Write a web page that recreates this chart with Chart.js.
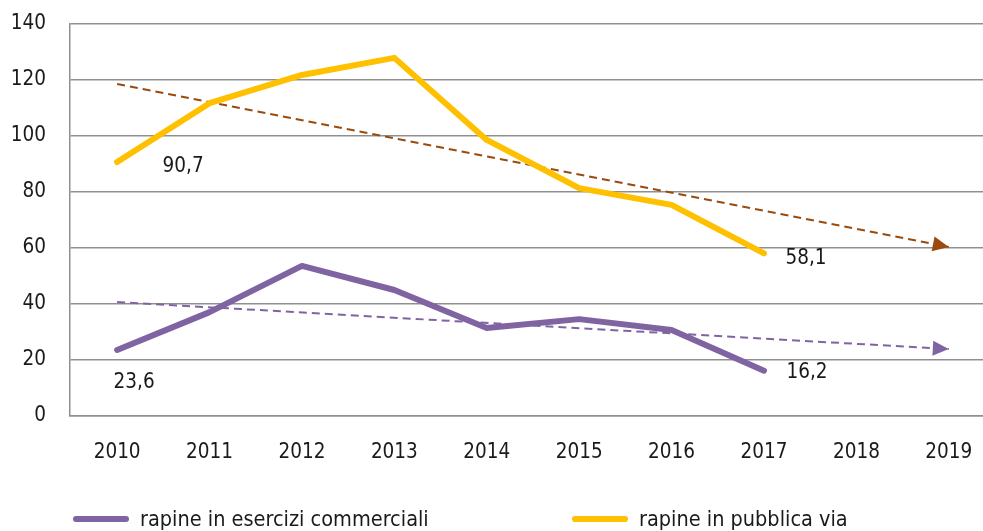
<!DOCTYPE html>
<html>
<head>
<meta charset="utf-8">
<script src="https://cdn.jsdelivr.net/npm/chart.js@4.4.1/dist/chart.umd.min.js"></script>
<style>
	html,body{margin:0;padding:0;background:#fff;overflow:hidden;}
	#wrap{width:983px;height:531px;position:relative;}
</style>
</head>
<body>
<div id="wrap"><canvas id="canvas"></canvas></div>
<script>
// data
var years = [2010, 2011, 2012, 2013, 2014, 2015, 2016, 2017];
var tickYears = [2010, 2011, 2012, 2013, 2014, 2015, 2016, 2017, 2018, 2019];
var esercizi = [23.6, 37.1, 53.6, 45.0, 31.4, 34.6, 30.7, 16.2];
var pubblicaVia = [90.7, 111.7, 121.8, 127.9, 98.6, 81.4, 75.4, 58.1];
var trendYears = [2010, 2019];
var trendEsercizi = [40.7, 23.9];
var trendPubblica = [118.6, 60.4];
var yTicks = [0, 20, 40, 60, 80, 100, 120, 140];

var FONT = "'Liberation Sans Narrow', 'DejaVu Sans Condensed', 'Roboto', sans-serif";
var PURPLE = '#8064a2';
var YELLOW = '#ffc000';
var BROWN = '#9a4a0c';

function pts(xs, ys){
	return ys.map(function(v, i){ return {x: xs[i], y: v}; });
}

// value labels (first and last point of each main series)
var valueLabels = {
	id: 'valueLabels',
	afterDatasetsDraw: function(chart, args, opts){
		var ctx = chart.ctx;
		ctx.save();
		ctx.font = '20.5px ' + FONT;
		ctx.fillStyle = '#1a1a1a';
		ctx.textAlign = 'center';
		ctx.textBaseline = 'middle';
		opts.items.forEach(function(it){
			var meta = chart.getDatasetMeta(it.ds);
			var p = meta.data[it.idx];
			var v = chart.data.datasets[it.ds].data[it.idx].y;
			ctx.fillText(v.toFixed(1).replace('.', ','), p.x + it.dx, p.y + it.dy);
		});
		ctx.restore();
	}
};

// arrow heads at the end of the trend lines
var arrowHeads = {
	id: 'arrowHeads',
	afterDatasetsDraw: function(chart){
		var ctx = chart.ctx;
		chart.data.datasets.forEach(function(ds, i){
			if(!ds.trend) return;
			var d = chart.getDatasetMeta(i).data;
			var a = d[d.length - 2], b = d[d.length - 1];
			var ang = Math.atan2(b.y - a.y, b.x - a.x);
			ctx.save();
			ctx.translate(b.x, b.y);
			ctx.rotate(ang);
			ctx.fillStyle = ds.borderColor;
			ctx.beginPath();
			ctx.moveTo(0, 0);
			ctx.lineTo(-16, -7.5);
			ctx.lineTo(-16, 7.5);
			ctx.closePath();
			ctx.fill();
			ctx.restore();
		});
	}
};

// legend drawn by hand to match the reference placement
var bottomLegend = {
	id: 'bottomLegend',
	afterDraw: function(chart, args, opts){
		var ctx = chart.ctx;
		var main = chart.data.datasets.filter(function(ds){ return !ds.trend; });
		ctx.save();
		ctx.font = '21.5px ' + FONT;
		ctx.textBaseline = 'middle';
		ctx.textAlign = 'left';
		main.forEach(function(ds, i){
			var x = opts.xs[i];
			ctx.strokeStyle = ds.borderColor;
			ctx.lineWidth = 6;
			ctx.lineCap = 'round';
			ctx.beginPath();
			ctx.moveTo(x + 3, opts.y);
			ctx.lineTo(x + 53, opts.y);
			ctx.stroke();
			ctx.fillStyle = '#1a1a1a';
			ctx.fillText(ds.label, x + 67, opts.y + 1);
		});
		ctx.restore();
	}
};

var ctx = document.getElementById('canvas').getContext('2d');
var config = {
	type: 'line',
	data: {
		datasets: [{
			label: 'rapine in esercizi commerciali',
			data: pts(years, esercizi),
			borderColor: PURPLE,
			borderWidth: 6,
			borderCapStyle: 'round',
			borderJoinStyle: 'round',
			pointRadius: 0,
			tension: 0,
			order: 1
		},{
			label: 'rapine in pubblica via',
			data: pts(years, pubblicaVia),
			borderColor: YELLOW,
			borderWidth: 6,
			borderCapStyle: 'round',
			borderJoinStyle: 'round',
			pointRadius: 0,
			tension: 0,
			order: 1
		},{
			label: 'tendenza esercizi',
			trend: true,
			data: pts(trendYears, trendEsercizi),
			borderColor: PURPLE,
			borderWidth: 2,
			borderDash: [8, 5],
			pointRadius: 0,
			tension: 0,
			order: 2
		},{
			label: 'tendenza pubblica via',
			trend: true,
			data: pts(trendYears, trendPubblica),
			borderColor: BROWN,
			borderWidth: 2,
			borderDash: [8, 5],
			pointRadius: 0,
			tension: 0,
			order: 2
		}]
	},
	options: {
		responsive: true,
		maintainAspectRatio: false,
		animation: false,
		layout: {padding: {top: 24, right: 0, bottom: 65, left: 0}},
		plugins: {
			legend: {display: false},
			tooltip: {enabled: false},
			valueLabels: {
				items: [
					{ds: 1, idx: 0, dx: 66, dy: 5},
					{ds: 1, idx: 7, dx: 42, dy: 5},
					{ds: 0, idx: 0, dx: 17, dy: 33},
					{ds: 0, idx: 7, dx: 43, dy: 2}
				]
			},
			bottomLegend: {xs: [73, 572], y: 519}
		},
		scales: {
			x: {
				type: 'linear',
				min: 2009.49,
				max: 2019.37,
				afterBuildTicks: function(scale){
					scale.ticks = tickYears.map(function(v){ return {value: v}; });
				},
				afterFit: function(scale){
					scale.height = 50;
					scale.paddingLeft = 0;
					scale.paddingRight = 0;
				},
				grid: {display: false, drawTicks: false},
				border: {display: true, color: '#8f8f8f', width: 1.5},
				ticks: {
					padding: 24,
					maxRotation: 0,
					autoSkip: false,
					color: '#1a1a1a',
					font: {family: FONT, size: 20.5},
					callback: function(v){ return String(v); }
				}
			},
			y: {
				min: 0,
				max: 140,
				afterBuildTicks: function(scale){
					scale.ticks = yTicks.map(function(v){ return {value: v}; });
				},
				afterFit: function(scale){
					scale.width = 70;
					scale.paddingTop = 0;
					scale.paddingBottom = 0;
				},
				grid: {color: '#8f8f8f', lineWidth: 1.5, drawTicks: false},
				border: {display: true, color: '#8f8f8f', width: 1.5},
				ticks: {
					padding: 24,
					color: '#1a1a1a',
					font: {family: FONT, size: 20.5}
				}
			}
		}
	},
	plugins: [valueLabels, arrowHeads, bottomLegend]
};
var chart = new Chart(ctx, config);
</script>
</body>
</html>
